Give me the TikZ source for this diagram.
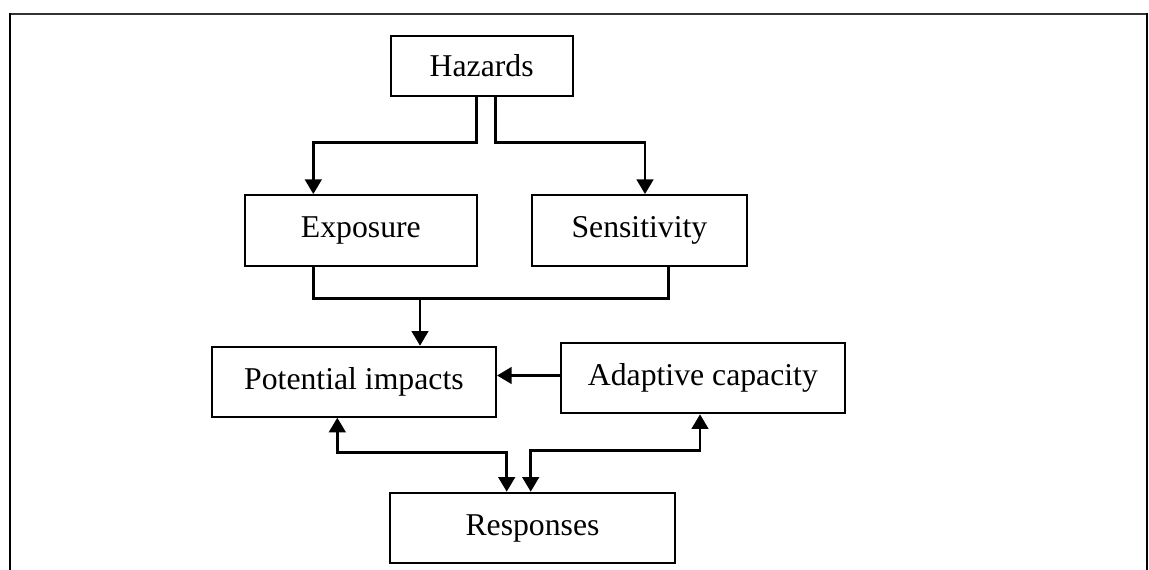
\documentclass[tikz,border=0pt]{standalone}
\usepackage{fontspec}
\setmainfont{Liberation Serif}
\usetikzlibrary{arrows.meta,calc}

\tikzset{
  box/.style={draw=black, line width=1.5pt, fill=white, inner sep=0pt,
              font=\fontsize{23.8}{28}\selectfont},
  link/.style={draw=black, line width=2pt},
  tip/.tip={Triangle[width=12.5pt,length=11pt]},
  arr/.style={link, -tip},
  twoway/.style={link, tip-tip},
  frame/.style={line width=1.6pt}
}

\begin{document}
\begin{tikzpicture}[x=0.75pt,y=-0.75pt]
  \useasboundingbox (0,0) rectangle (1149,570);

  % open outer frame (no bottom edge)
  \draw[frame, black!80] (9,14) -- (1148,14);
  \draw[frame] (10,13) -- (10,570);
  \draw[frame] (1147,13) -- (1147,570);

  % boxes
  \node[box, minimum width=182*0.75pt, minimum height=60.3*0.75pt] (Hazards) at (481.7,65.9) {Hazards};
  \node[box, minimum width=231.7*0.75pt, minimum height=70.7*0.75pt] (Exposure) at (360.9,230.4) {Exposure};
  \node[box, minimum width=215.3*0.75pt, minimum height=70.7*0.75pt] (Sensitivity) at (639.4,230.4) {Sensitivity};
  \node[box, minimum width=284.3*0.75pt, minimum height=70*0.75pt] (Potential) at (353.9,381.7) {Potential impacts};
  \node[box, minimum width=284.3*0.75pt, minimum height=70*0.75pt] (Adaptive) at (702.9,378.3) {Adaptive capacity};
  \node[box, minimum width=285*0.75pt, minimum height=70.6*0.75pt] (Responses) at (532.5,528) {Responses};

  % bend points and lane positions
  \coordinate (hzL) at (476.7,142.3);
  \coordinate (hzR) at (495.7,142.3);
  \coordinate (exA) at (313.3,0);
  \coordinate (seA) at (645,0);
  \coordinate (seB) at (668.3,0);
  \coordinate (jn) at (420,298.3);
  \coordinate (ac) at (0,375.5);
  \coordinate (lowL) at (337.3,452.3);
  \coordinate (lowLR) at (506.7,452.3);
  \coordinate (lowRL) at (530.7,450.3);
  \coordinate (lowR) at (700,450.3);

  % hazards feed exposure and sensitivity
  \draw[arr] (Hazards.south -| hzL) -- (hzL) -| (Exposure.north -| exA);
  \draw[arr] (Hazards.south -| hzR) -- (hzR) -| (Sensitivity.north -| seA);

  % exposure and sensitivity combine into potential impacts
  \draw[link] (Exposure.south -| exA) -- (exA |- jn) -- (seB |- jn) -- (Sensitivity.south -| seB);
  \draw[arr] (jn) -- (Potential.north -| jn);

  % adaptive capacity moderates potential impacts
  \draw[arr] (Adaptive.west |- ac) -- (Potential.east |- ac);

  % two-way links with responses
  \draw[twoway] (Potential.south -| lowL) -- (lowL) -- (lowLR) -- (Responses.north -| lowLR);
  \draw[twoway] (Adaptive.south -| lowR) -- (lowR) -- (lowRL) -- (Responses.north -| lowRL);
\end{tikzpicture}
\end{document}
